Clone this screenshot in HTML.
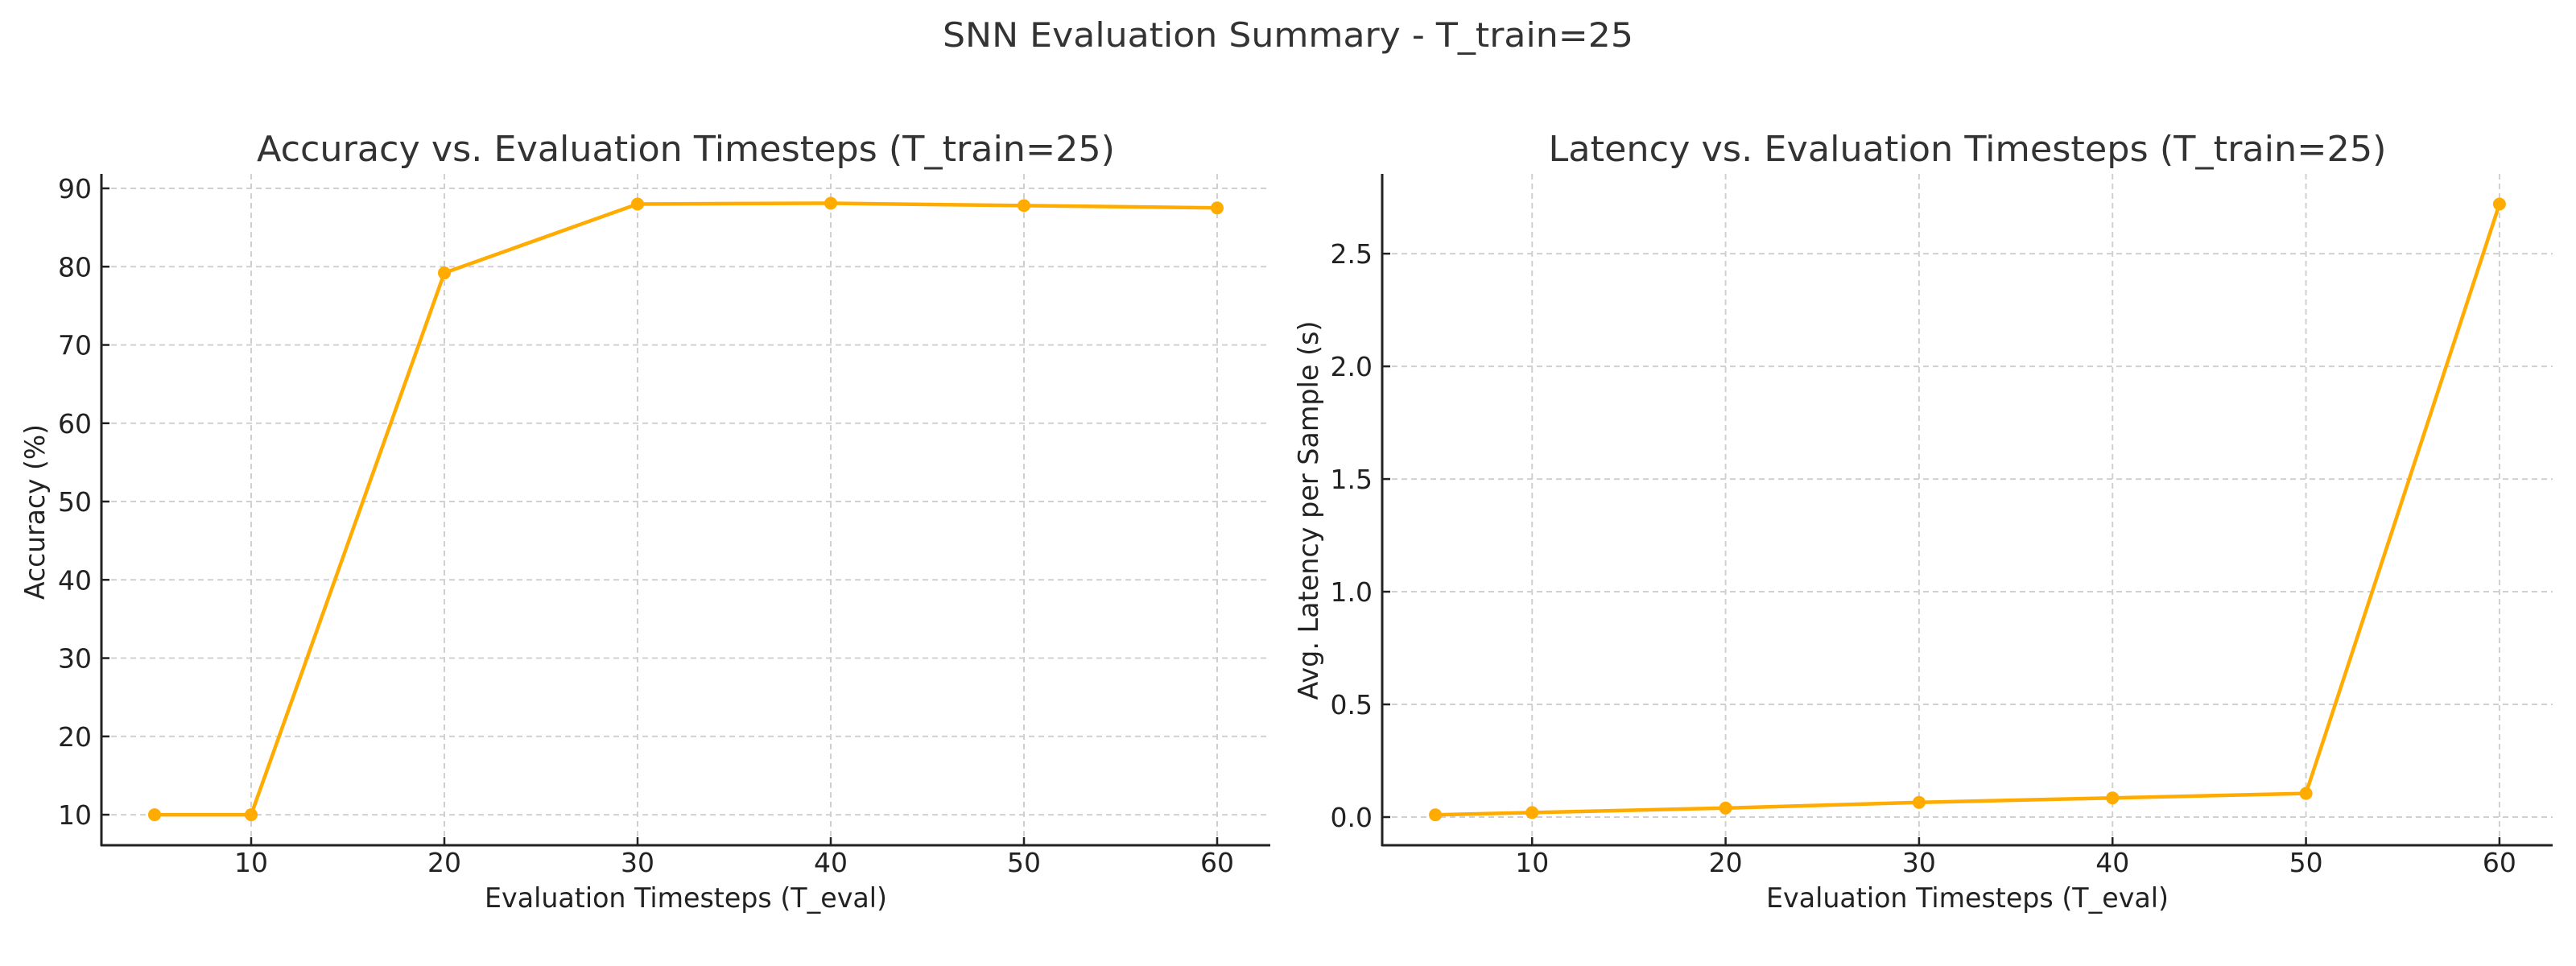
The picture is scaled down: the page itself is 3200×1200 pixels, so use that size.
<!DOCTYPE html>
<html><head><meta charset="utf-8"><style>
html,body{margin:0;padding:0;background:#fff;}
svg{display:block;font-family:"DejaVu Sans","Liberation Sans",sans-serif;}
</style></head><body>
<svg id="fig" width="3200" height="1200" viewBox="0 0 3200 1200" xmlns="http://www.w3.org/2000/svg">
<rect width="3200" height="1200" fill="#fff"/>
<text x="1600" y="58" font-size="42" fill="#333" text-anchor="middle" textLength="858" lengthAdjust="spacingAndGlyphs">SNN Evaluation Summary - T_train=25</text>
<g id="p1"></g>
<g id="p2"></g>
</svg>
<script>
const xValues = [5, 10, 20, 30, 40, 50, 60];
const accuracyValues = [10.0, 10.0, 79.2, 88.0, 88.1, 87.8, 87.5];
const latencyValues = [0.01, 0.02, 0.04, 0.065, 0.085, 0.105, 2.72];
const xTicks = [10, 20, 30, 40, 50, 60];
const accTicks = [10, 20, 30, 40, 50, 60, 70, 80, 90];
const accTickLabels = ["10","20","30","40","50","60","70","80","90"];
const latTicks = [0, 0.5, 1.0, 1.5, 2.0, 2.5];
const latTickLabels = ["0.0","0.5","1.0","1.5","2.0","2.5"];

const NS = "http://www.w3.org/2000/svg";
function mk(parent, tag, attrs, text) {
  const e = document.createElementNS(NS, tag);
  for (const k in attrs) e.setAttribute(k, attrs[k]);
  if (text !== undefined) e.textContent = text;
  parent.appendChild(e);
  return e;
}

function drawPanel(g, cfg) {
  const top = 216, bottom = 1050;
  const sx = v => cfg.left + (v - 2.25) / (62.75 - 2.25) * (cfg.right - cfg.left);
  const sy = v => bottom - (v - cfg.ymin) / (cfg.ymax - cfg.ymin) * (bottom - top);

  xTicks.forEach(t => {
    const l = mk(g, "line", {x1: sx(t), x2: sx(t), y1: top, y2: bottom, stroke: "#d0d0d0", "stroke-width": 2, "stroke-dasharray": "7,5"});
    
    
  });
  cfg.yTicks.forEach(t => {
    const l = mk(g, "line", {x1: cfg.left, x2: cfg.right, y1: sy(t), y2: sy(t), stroke: "#d0d0d0", "stroke-width": 2, "stroke-dasharray": "7,5"});
    
    
  });
  const ls = mk(g, "line", {x1: cfg.left, x2: cfg.left, y1: top, y2: bottom + 1, stroke: "#222", "stroke-width": 3});
  
  
  const bs = mk(g, "line", {x1: cfg.left - 1, x2: cfg.right, y1: bottom, y2: bottom, stroke: "#222", "stroke-width": 3});
  
  
  xTicks.forEach(t => {
    const tk = mk(g, "line", {x1: sx(t), x2: sx(t), y1: bottom, y2: bottom - 10, stroke: "#222", "stroke-width": 2.5});
    
    
    const tl = mk(g, "text", {x: sx(t), y: 1083, "font-size": 33, fill: "#222", "text-anchor": "middle"}, String(t));
    
    
  });
  cfg.yTicks.forEach((t, i) => {
    const tk = mk(g, "line", {x1: cfg.left, x2: cfg.left + 10, y1: sy(t), y2: sy(t), stroke: "#222", "stroke-width": 2.5});
    
    
    const tl = mk(g, "text", {x: cfg.left - 12, y: sy(t) + 12, "font-size": 33, fill: "#222", "text-anchor": "end"}, cfg.yLabels[i]);
    
    
  });
  const pts = xValues.map((x, i) => sx(x) + "," + sy(cfg.values[i])).join(" ");
  const pl = mk(g, "polyline", {points: pts, fill: "none", stroke: "#FFAB00", "stroke-width": 4.5, "stroke-linejoin": "round"});
  
  
  xValues.forEach((x, i) => {
    const c = mk(g, "circle", {cx: sx(x), cy: sy(cfg.values[i]), r: 8, fill: "#FFAB00"});
    
    
  });
  const tt = mk(g, "text", {x: (cfg.left + cfg.right) / 2, y: 200, "font-size": 44, fill: "#333", "text-anchor": "middle", textLength: cfg.titleLen, lengthAdjust: "spacingAndGlyphs"}, cfg.title);
  
  
  const xl = mk(g, "text", {x: (cfg.left + cfg.right) / 2, y: 1127, "font-size": 34, fill: "#222", "text-anchor": "middle", textLength: 500, lengthAdjust: "spacingAndGlyphs"}, "Evaluation Timesteps (T_eval)");
  
  
  const yl = mk(g, "text", {x: 0, y: 0, "font-size": 34, fill: "#222", "text-anchor": "middle", textLength: cfg.ylabLen, lengthAdjust: "spacingAndGlyphs", transform: "translate(" + cfg.ylabX + "," + cfg.ylabY + ") rotate(-90)"}, cfg.ylabel);
  
  
}

drawPanel(document.getElementById("p1"), {
  left: 126, right: 1578, ymin: 6.1, ymax: 91.85, values: accuracyValues,
  yTicks: accTicks, yLabels: accTickLabels,
  title: "Accuracy vs. Evaluation Timesteps (T_train=25)", titleLen: 1066,
  ylabel: "Accuracy (%)", ylabLen: 218, ylabX: 55, ylabY: 636
});
drawPanel(document.getElementById("p2"), {
  left: 1717, right: 3171, ymin: -0.125, ymax: 2.854, values: latencyValues,
  yTicks: latTicks, yLabels: latTickLabels,
  title: "Latency vs. Evaluation Timesteps (T_train=25)", titleLen: 1041,
  ylabel: "Avg. Latency per Sample (s)", ylabLen: 471, ylabX: 1637, ylabY: 634
});
</script>
</body></html>
